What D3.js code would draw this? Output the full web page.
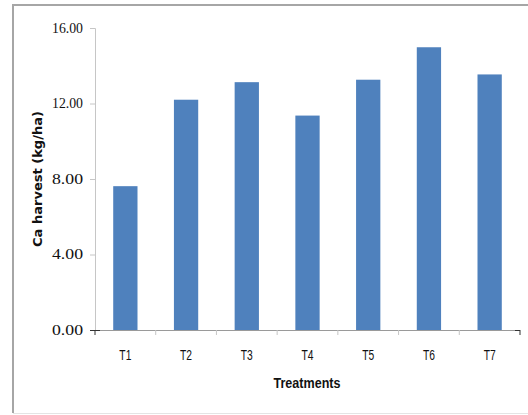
<!DOCTYPE html>
<html>
<head>
<meta charset="utf-8">
<script src="https://cdn.jsdelivr.net/npm/d3@7/dist/d3.min.js"></script>
<style>
  html, body { margin: 0; padding: 0; background: #fff; }
  svg { display: block; }
</style>
</head>
<body>
<svg id="chart" width="528" height="415"></svg>
<script>
// Calcium harvest per treatment
const treatments = ["T1", "T2", "T3", "T4", "T5", "T6", "T7"];
const caHarvest = [7.62, 12.2, 13.13, 11.36, 13.26, 14.98, 13.54];
const yTicks = [0, 4, 8, 12, 16];

const svg = d3.select("#chart");
const W = 528, H = 415;

// Chart-area frame
svg.append("rect").attr("width", W).attr("height", H).attr("fill", "#fff");
svg.append("line").attr("x1", 12).attr("x2", W).attr("y1", 5).attr("y2", 5)
  .attr("stroke", "#a6a6a6").attr("stroke-width", 2);
svg.append("line").attr("x1", 13).attr("x2", 13).attr("y1", 4).attr("y2", 413)
  .attr("stroke", "#a6a6a6").attr("stroke-width", 2);
svg.append("line").attr("x1", 13).attr("x2", W).attr("y1", 413.5).attr("y2", 413.5)
  .attr("stroke", "#e4e4e4").attr("stroke-width", 1);

const plot = { left: 95, right: 520, top: 28, bottom: 330 };

const x = d3.scaleBand().domain(treatments)
  .range([plot.left, plot.right]).paddingInner(0.6).paddingOuter(0.3);
const y = d3.scaleLinear().domain([0, 16]).range([plot.bottom, plot.top]);

// Bars
svg.append("g").selectAll("rect").data(treatments).join("rect")
  .attr("x", d => x(d))
  .attr("y", (d, i) => y(caHarvest[i]))
  .attr("width", x.bandwidth())
  .attr("height", (d, i) => y(0) - y(caHarvest[i]))
  .attr("fill", "#4f81bd");

// Y axis
const yAxis = svg.append("g").attr("transform", `translate(${plot.left},0)`)
  .call(d3.axisLeft(y).tickValues(yTicks).tickSize(5).tickPadding(7)
    .tickFormat(d3.format(".2f")));
yAxis.select(".domain").attr("stroke", "#c6c6c6");
yAxis.selectAll(".tick line").attr("stroke", "#c6c6c6");
yAxis.selectAll(".tick text")
  .attr("font-family", "'Liberation Serif', 'Times New Roman', serif")
  .attr("font-size", 14).attr("fill", "#111")
  .attr("textLength", 31).attr("lengthAdjust", "spacingAndGlyphs");

// X axis
const step = x.step();
const boundaries = d3.range(treatments.length + 1).map(i => plot.left + i * step);
const xg = svg.append("g");
xg.append("line").attr("x1", plot.left - 5).attr("x2", plot.right)
  .attr("y1", plot.bottom + 0.5).attr("y2", plot.bottom + 0.5)
  .attr("stroke", "#9a9a9a");
xg.selectAll("line.tk").data(boundaries).join("line").attr("class", "tk")
  .attr("x1", d => d).attr("x2", d => d)
  .attr("y1", plot.bottom).attr("y2", plot.bottom + 5)
  .attr("stroke", (d, i) => (i === 0 || i === treatments.length) ? "#333" : "#c6c6c6");
xg.append("line").attr("x1", plot.left - 5).attr("x2", plot.left + 5)
  .attr("y1", plot.bottom + 0.5).attr("y2", plot.bottom + 0.5).attr("stroke", "#333");
xg.append("line").attr("x1", plot.right - 5).attr("x2", plot.right)
  .attr("y1", plot.bottom + 0.5).attr("y2", plot.bottom + 0.5).attr("stroke", "#333");

xg.selectAll("text").data(treatments).join("text")
  .attr("x", d => x(d) + x.bandwidth() / 2)
  .attr("y", 360)
  .attr("text-anchor", "middle")
  .attr("font-family", "'Liberation Sans', Arial, sans-serif")
  .attr("font-size", 14.5).attr("fill", "#111")
  .attr("textLength", 12).attr("lengthAdjust", "spacingAndGlyphs")
  .text(d => d);

// Axis titles
svg.append("text")
  .attr("x", 307).attr("y", 388).attr("text-anchor", "middle")
  .attr("font-family", "'Liberation Sans', Arial, sans-serif")
  .attr("font-weight", "bold").attr("font-size", 15).attr("fill", "#111")
  .attr("textLength", 67).attr("lengthAdjust", "spacingAndGlyphs")
  .text("Treatments");

svg.append("text")
  .attr("transform", `translate(42,${(plot.top + plot.bottom) / 2}) rotate(-90)`)
  .attr("text-anchor", "middle")
  .attr("font-family", "'DejaVu Sans', Verdana, sans-serif")
  .attr("font-weight", "bold").attr("font-size", 11.5).attr("fill", "#111")
  .attr("textLength", 136).attr("lengthAdjust", "spacingAndGlyphs")
  .text("Ca harvest (kg/ha)");
</script>
</body>
</html>
